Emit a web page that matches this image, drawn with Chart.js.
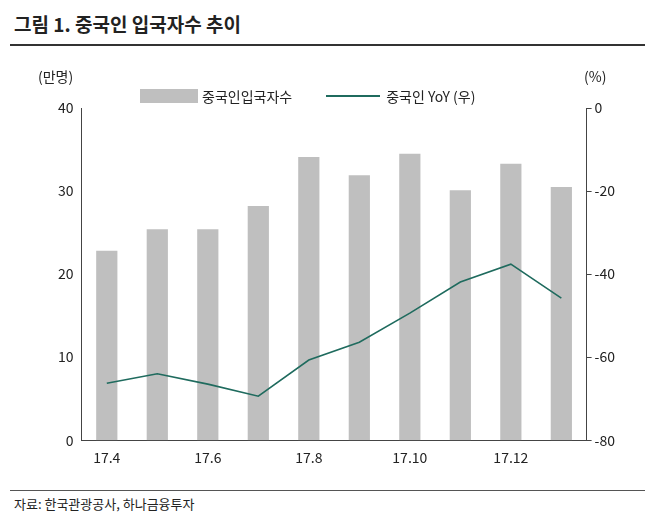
<!DOCTYPE html>
<html><head><meta charset="utf-8">
<script src="https://cdn.jsdelivr.net/npm/chart.js@4/dist/chart.umd.min.js"></script>
<style>
body{margin:0;background:#fff;font-family:"Noto Sans CJK KR",sans-serif;color:#222}
#wrap{position:relative;width:655px;height:520px}
#title{position:absolute;left:14px;top:10px;font-size:19px;font-weight:bold}
#tline{position:absolute;left:10px;right:10px;top:44px;border-top:2px solid #333}
#box{position:absolute;left:0;top:60px;width:655px;height:425px}
.unit{position:absolute;top:66px;font-size:14px}
#legend{position:absolute;top:86px;left:140px;font-size:14px;display:flex;align-items:center}
#src{position:absolute;left:14px;top:494px;font-size:13px}
#sline{position:absolute;left:10px;right:10px;top:490px;border-top:1px solid #555}
</style></head><body>
<div id="wrap">
<div id="title">그림 1. 중국인 입국자수 추이</div>
<div id="tline"></div>
<div id="box"><canvas id="c"></canvas></div>
<div class="unit" style="left:38px">(만명)</div>
<div class="unit" style="left:584px">(%)</div>
<div id="legend">
<span style="display:inline-block;width:58px;height:14px;background:#bfbfbf;margin-right:4px"></span>중국인입국자수
<span style="display:inline-block;width:54px;border-top:2px solid #1f6b5e;margin:0 6px 0 34px"></span>중국인 YoY (우)
</div>
<div id="sline"></div>
<div id="src">자료: 한국관광공사, 하나금융투자</div>
</div>
<script>
// 데이터
const months = ['17.4','17.5','17.6','17.7','17.8','17.9','17.10','17.11','17.12','18.1'];
const tickLabels = ['17.4','','17.6','','17.8','','17.10','','17.12',''];
const visitors = [22.8, 25.4, 25.4, 28.2, 34.1, 31.9, 34.5, 30.1, 33.3, 30.5];
const yoy = [-66.3, -64.0, -66.5, -69.4, -60.7, -56.4, -49.4, -41.9, -37.6, -45.8];

const axisColor = '#444';
const tickFont = { family: "'Noto Sans CJK KR', sans-serif", size: 14 };

new Chart(document.getElementById('c'), {
    data: {
        labels: months,
        datasets: [
            {
                type: 'line',
                data: yoy,
                yAxisID: 'y2',
                borderColor: '#1f6b5e',
                borderWidth: 1.6,
                pointRadius: 0,
                tension: 0
            },
            {
                type: 'bar',
                data: visitors,
                yAxisID: 'y',
                backgroundColor: '#bfbfbf',
                barPercentage: 0.42,
                categoryPercentage: 1
            }
        ]
    },
    options: {
        responsive: true,
        maintainAspectRatio: false,
        animation: false,
        layout: { padding: { left: 55, right: 37, top: 48, bottom: 16 } },
        plugins: { legend: { display: false }, tooltip: { enabled: false } },
        scales: {
            x: {
                offset: true,
                grid: { display: false, drawTicks: true, tickLength: 6, color: axisColor },
                border: { color: axisColor },
                ticks: { color: '#222', font: tickFont, maxRotation: 0, autoSkip: false,
                    callback: (v, i) => tickLabels[i] }
            },
            y: {
                position: 'left', min: 0, max: 40,
                grid: { display: false, drawOnChartArea: false, tickLength: 5 },
                border: { color: axisColor },
                ticks: { stepSize: 10, color: '#222', font: tickFont }
            },
            y2: {
                position: 'right', min: -80, max: 0,
                grid: { drawOnChartArea: false, tickLength: 5, color: axisColor },
                border: { color: axisColor },
                ticks: { stepSize: 20, color: '#222', font: tickFont }
            }
        }
    }
});
</script>
</body></html>
